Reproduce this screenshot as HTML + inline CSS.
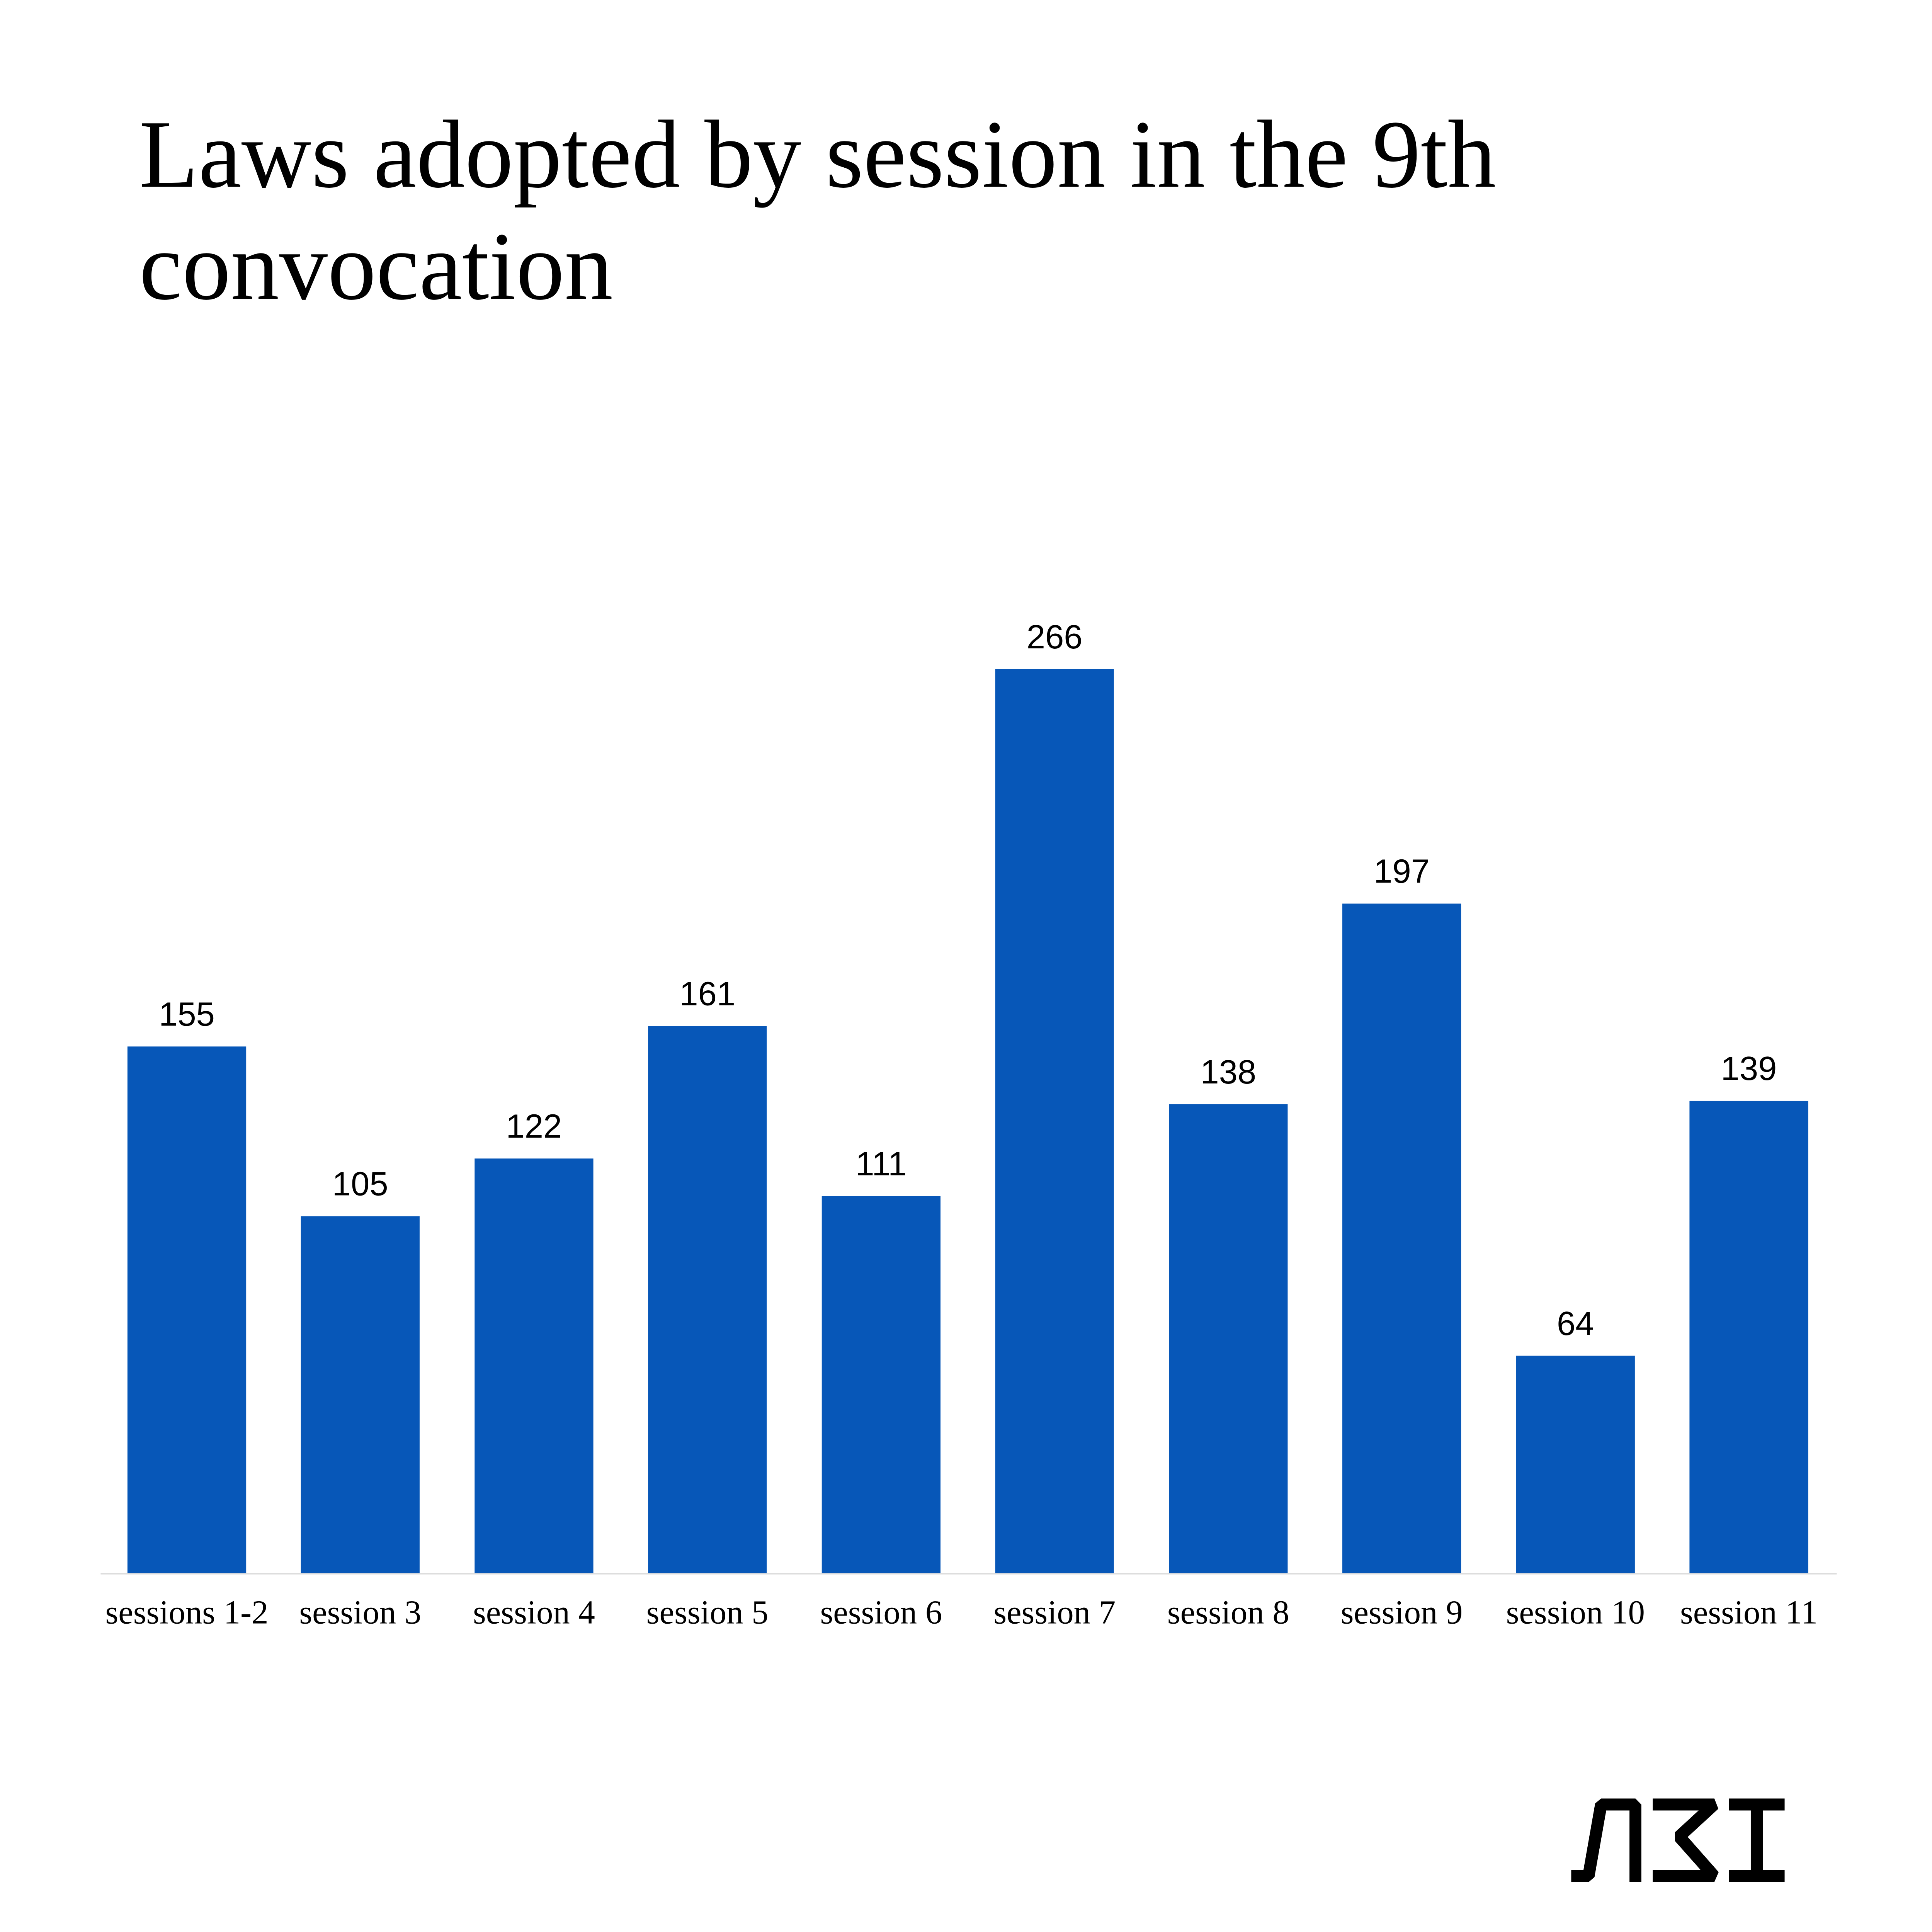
<!DOCTYPE html>
<html><head><meta charset="utf-8"><style>
html,body{margin:0;padding:0;background:#fff;overflow:hidden;height:100vh;}
svg.main{display:block;width:100vw;height:auto;}
</style></head><body>
<svg class="main" viewBox="0 0 5760 6000" preserveAspectRatio="xMinYMin meet" xmlns="http://www.w3.org/2000/svg">
<rect width="5760" height="6000" fill="#fff"/>
<text font-family="Liberation Serif, serif" font-size="289" fill="#000">
<tspan x="415" y="557">Laws adopted by session in the 9th</tspan>
<tspan x="415" y="891">convocation</tspan>
</text>
<line x1="300" y1="4692" x2="5476" y2="4692" stroke="#dcdcdc" stroke-width="4"/>
<g fill="#0757b8">
<rect x="380" y="3120" width="354" height="1570"/>
<rect x="897" y="3626" width="354" height="1064"/>
<rect x="1415" y="3454" width="354" height="1236"/>
<rect x="1932" y="3059" width="354" height="1631"/>
<rect x="2450" y="3566" width="354" height="1124"/>
<rect x="2967" y="1995" width="354" height="2695"/>
<rect x="3485" y="3292" width="354" height="1398"/>
<rect x="4002" y="2694" width="354" height="1996"/>
<rect x="4520" y="4042" width="354" height="648"/>
<rect x="5037" y="3282" width="354" height="1408"/>
</g>
<g font-family="Liberation Sans, sans-serif" font-size="100" fill="#000" text-anchor="middle">
<text x="557" y="3058">155</text>
<text x="1074" y="3564">105</text>
<text x="1592" y="3392">122</text>
<text x="2109" y="2997">161</text>
<text x="2627" y="3504">111</text>
<text x="3144" y="1933">266</text>
<text x="3662" y="3230">138</text>
<text x="4179" y="2632">197</text>
<text x="4697" y="3980">64</text>
<text x="5214" y="3220">139</text>
</g>
<g font-family="Liberation Serif, serif" font-size="100" fill="#000" text-anchor="middle">
<text x="557" y="4840">sessions 1-2</text>
<text x="1074" y="4840">session 3</text>
<text x="1592" y="4840">session 4</text>
<text x="2109" y="4840">session 5</text>
<text x="2627" y="4840">session 6</text>
<text x="3144" y="4840">session 7</text>
<text x="3662" y="4840">session 8</text>
<text x="4179" y="4840">session 9</text>
<text x="4697" y="4840">session 10</text>
<text x="5214" y="4840">session 11</text>
</g>
<svg x="4650" y="5330" width="750" height="330" viewBox="0 0 1568 990" preserveAspectRatio="none">
<g fill="#000">
<polygon points="72,736 148,736 221,140 258,96 472,96 509,150 509,843 435,843 435,203 290,203 217,799 181,843 72,843"/>
<polygon points="580,96 964,96 989,188 798,440 991,754 964,843 580,843 580,736 879,736 719,477 719,397 866,203 580,203"/>
<polygon points="1055,96 1402,96 1402,203 1266,203 1266,736 1402,736 1402,843 1055,843 1055,736 1191,736 1191,203 1055,203"/>
</g>
</svg>
</svg>
</body></html>
